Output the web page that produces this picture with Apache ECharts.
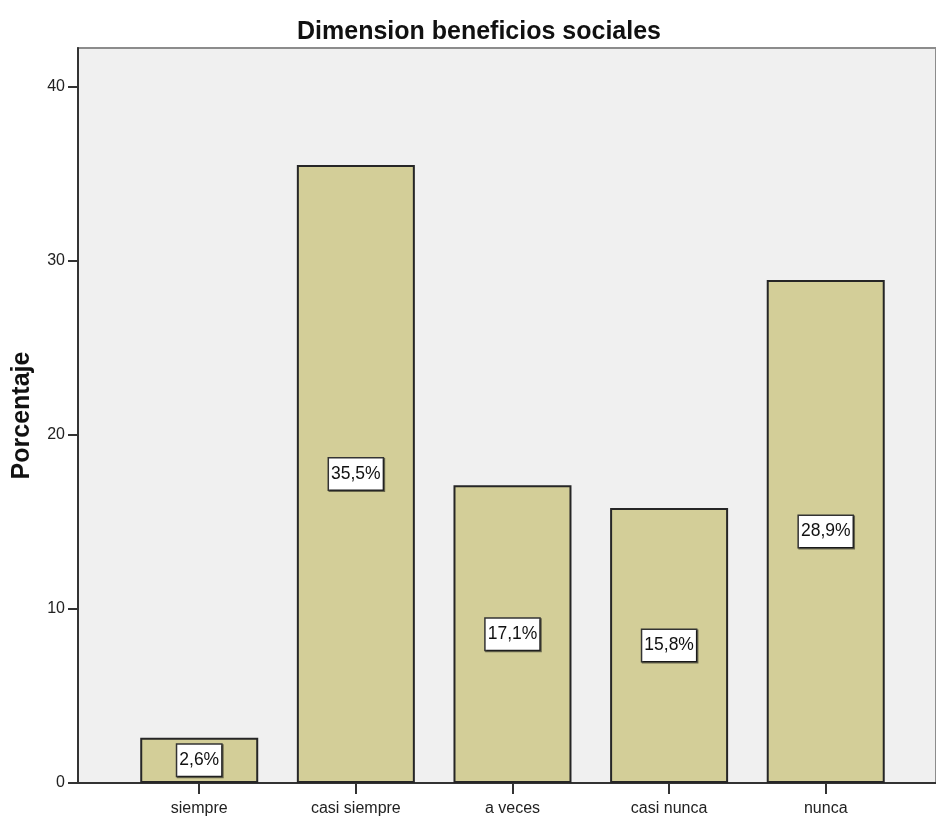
<!DOCTYPE html>
<html>
<head>
<meta charset="utf-8">
<script src="https://cdn.jsdelivr.net/npm/echarts@6/dist/echarts.min.js"></script>
<style>
  html, body { margin: 0; padding: 0; background: #ffffff; }
  #chart { width: 936px; height: 817px; }
</style>
</head>
<body>
<div id="chart"></div>
<script>
// Response categories and their percentages
const categories = ['siempre', 'casi siempre', 'a veces', 'casi nunca', 'nunca'];
const percentages = [2.6, 35.5, 17.1, 15.8, 28.9];
const yTicks = [0, 10, 20, 30, 40];

const FONT = '"Liberation Sans", Arial, sans-serif';
const positions = categories.map((_, i) => i);

const chart = echarts.init(document.getElementById('chart'), null, { renderer: 'canvas' });

chart.setOption({
  animation: false,
  backgroundColor: '#ffffff',
  title: {
    text: 'Dimension beneficios sociales',
    left: 474,
    textAlign: 'center',
    top: 15,
    textStyle: { fontFamily: FONT, fontSize: 25, fontWeight: 'bold', color: '#111' }
  },
  grid: {
    left: 78, top: 48, right: -2, bottom: 34,
    show: true,
    backgroundColor: '#f0f0f0',
    borderColor: '#8c8c8c',
    borderWidth: 2
  },
  xAxis: {
    type: 'value',
    min: -0.774,
    max: 4.704,
    splitLine: { show: false },
    axisLine: { show: true, onZero: false, lineStyle: { color: '#333', width: 2 } },
    axisTick: {
      show: true, customValues: positions, length: 11,
      lineStyle: { color: '#333', width: 2 }
    },
    axisLabel: {
      customValues: positions,
      formatter: v => categories[Math.round(v)] || '',
      fontFamily: FONT, fontSize: 16, color: '#222', margin: 18
    }
  },
  yAxis: {
    type: 'value',
    min: 0,
    max: 42.22,
    interval: 10,
    splitLine: { show: false },
    axisLine: { show: true, onZero: false, lineStyle: { color: '#333', width: 2 } },
    axisTick: { show: true, customValues: yTicks, length: 10, lineStyle: { color: '#333', width: 2 } },
    axisLabel: {
      customValues: yTicks,
      formatter: v => String(v),
      fontFamily: FONT, fontSize: 16, color: '#222', margin: 13
    },
    name: 'Porcentaje',
    nameLocation: 'middle',
    nameRotate: 90,
    nameGap: 43,
    nameTextStyle: { fontFamily: FONT, fontSize: 25, fontWeight: 'bold', color: '#111' }
  },
  series: [{
    type: 'bar',
    data: percentages.map((v, i) => [positions[i], v]),
    barWidth: 118,
    itemStyle: { color: '#d3ce98', borderColor: '#262626', borderWidth: 2 },
    label: {
      show: true,
      position: 'inside',
      formatter: p => String(p.value[1]).replace('.', ',') + '%',
      fontFamily: FONT,
      fontSize: 17.5,
      color: '#111',
      backgroundColor: '#ffffff',
      borderColor: '#333',
      borderWidth: 1.5,
      padding: [7, 2, 6, 2],
      shadowColor: 'rgba(0,0,0,0.5)',
      shadowOffsetX: 1,
      shadowOffsetY: 1
    }
  }]
});
</script>
</body>
</html>
